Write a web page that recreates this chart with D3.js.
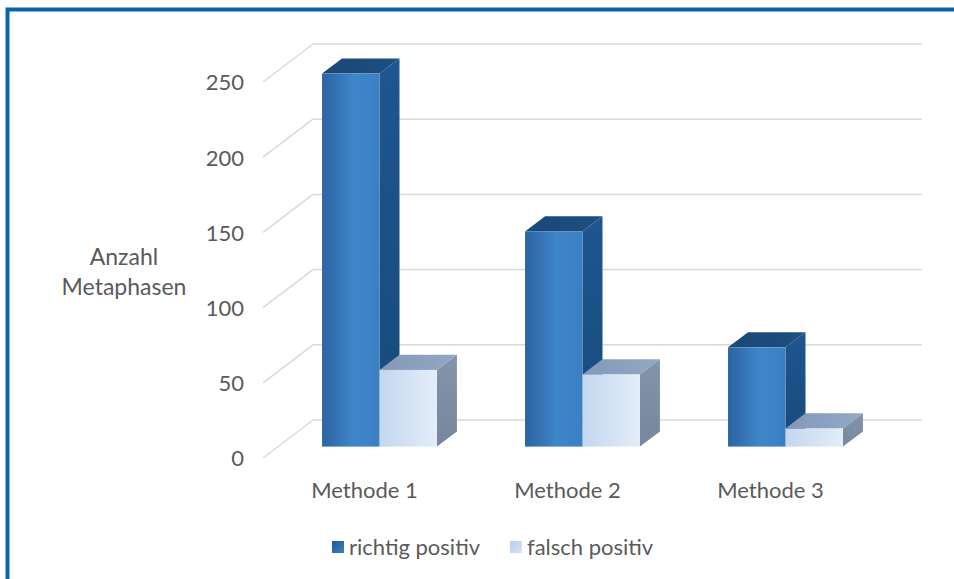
<!DOCTYPE html>
<html>
<head>
<meta charset="utf-8">
<script src="https://cdn.jsdelivr.net/npm/d3@7"></script>
<style>
  body { margin: 0; background: #fff; }
  text { font-family: Lato, "Open Sans", Arial, sans-serif; fill: #5a5a5a; }
</style>
</head>
<body>
<div id="chart"></div>
<script>
// data
var categories = ["Methode 1", "Methode 2", "Methode 3"];
var seriesNames = ["richtig positiv", "falsch positiv"];
var richtigPositiv = [248, 143, 66];
var falschPositiv = [51, 48, 12];
var yTicks = [0, 50, 100, 150, 200, 250];

var width = 954, height = 579;

var svg = d3.select("#chart").append("svg")
    .attr("width", width)
    .attr("height", height);

// gradients
var defs = svg.append("defs");
function grad(id, stops, x2, y2) {
  var g = defs.append("linearGradient").attr("id", id)
      .attr("x1", 0).attr("y1", 0).attr("x2", x2).attr("y2", y2);
  stops.forEach(function(s) {
    g.append("stop").attr("offset", s[0]).attr("stop-color", s[1]);
  });
}
grad("rFront", [[0, "#2b63a2"], [0.55, "#3f86c9"], [1, "#3a7fc2"]], 1, 0);
grad("rSide", [[0, "#1e5690"], [1, "#184a78"]], 0, 1);
grad("rTop", [[0, "#1a4877"], [1, "#1d4f80"]], 1, 0);
grad("fFront", [[0, "#c3d7ef"], [1, "#e4edf8"]], 1, 0);
grad("fSide", [[0, "#8494aa"], [1, "#76879d"]], 0, 1);
grad("fTop", [[0, "#8399b8"], [1, "#93a8c5"]], 1, 0);
grad("rLeg", [[0, "#1d5796"], [1, "#3f82c4"]], 1, 1);
grad("fLeg", [[0, "#b5cdec"], [1, "#d7e4f5"]], 1, 1);

// frame
svg.append("rect")
    .attr("x", 7.5).attr("y", 9.5)
    .attr("width", 960).attr("height", 600)
    .attr("fill", "none")
    .attr("stroke", "#0b63ad")
    .attr("stroke-width", 4);

// scales (front plane of the 3d box)
var x = d3.scaleBand().domain(categories).range([263, 872]);
var y = d3.scaleLinear().domain([0, 250]).range([458, 82]);

// depth of the whole box and of the bars
var depthX = 50, depthY = -38;
var barFront = 0.3, barBack = 0.7;

// gridlines: floor diagonals + back wall
var grid = svg.append("g");
yTicks.forEach(function(v) {
  grid.append("line")
      .attr("x1", x.range()[0]).attr("y1", y(v))
      .attr("x2", x.range()[0] + depthX).attr("y2", y(v) + depthY)
      .attr("stroke", "#d9d9d9").attr("stroke-width", 1.5);
  grid.append("line")
      .attr("x1", x.range()[0] + depthX).attr("y1", y(v) + depthY)
      .attr("x2", x.range()[1] + depthX).attr("y2", y(v) + depthY)
      .attr("stroke", "#d9d9d9").attr("stroke-width", 1.5);
});

// y tick labels
svg.append("g").selectAll("text")
    .data(yTicks)
  .enter().append("text")
    .attr("x", 244)
    .attr("y", function(d) { return y(d); })
    .attr("dy", "0.38em")
    .attr("text-anchor", "end")
    .style("font-size", "22px")
    .text(function(d) { return d; });

// y axis title
svg.append("text")
    .attr("x", 124).attr("y", 265)
    .attr("text-anchor", "middle")
    .style("font-size", "23px")
    .text("Anzahl");
svg.append("text")
    .attr("x", 124).attr("y", 295)
    .attr("text-anchor", "middle")
    .style("font-size", "23px")
    .text("Metaphasen");

// bars
var barW = x.bandwidth() * 0.283;
var ox = depthX * barFront, oy = depthY * barFront;
var bx = depthX * (barBack - barFront), by = depthY * (barBack - barFront);

function drawBar(g, x0, v, fill) {
  var x1 = x0 + barW;
  var yt = y(v) + oy, yb = y(0) + oy;
  g.append("polygon")
      .attr("points", [[x0, yt], [x1, yt], [x1 + bx, yt + by], [x0 + bx, yt + by]].join(" "))
      .attr("fill", "url(#" + fill + "Top)");
  g.append("polygon")
      .attr("points", [[x1, yt], [x1 + bx, yt + by], [x1 + bx, yb + by], [x1, yb]].join(" "))
      .attr("fill", "url(#" + fill + "Side)");
  g.append("rect")
      .attr("x", x0).attr("y", yt)
      .attr("width", barW).attr("height", yb - yt)
      .attr("fill", "url(#" + fill + "Front)");
}

var bars = svg.append("g");
categories.forEach(function(c, i) {
  var center = x(c) + x.bandwidth() / 2 + ox;
  drawBar(bars, center - barW, richtigPositiv[i], "r");
  drawBar(bars, center, falschPositiv[i], "f");
});

// category labels
svg.append("g").selectAll("text")
    .data(categories)
  .enter().append("text")
    .attr("x", function(d) { return x(d) + x.bandwidth() / 2; })
    .attr("y", 498)
    .attr("text-anchor", "middle")
    .style("font-size", "22px")
    .text(function(d) { return d; });

// legend
var legend = svg.append("g");
var legX = [332, 510];
seriesNames.forEach(function(s, i) {
  legend.append("rect")
      .attr("x", legX[i]).attr("y", 541)
      .attr("width", 12).attr("height", 12)
      .attr("fill", i === 0 ? "url(#rLeg)" : "url(#fLeg)");
  legend.append("text")
      .attr("x", legX[i] + 17).attr("y", 555)
      .style("font-size", "22px")
      .text(s);
});
</script>
</body>
</html>
